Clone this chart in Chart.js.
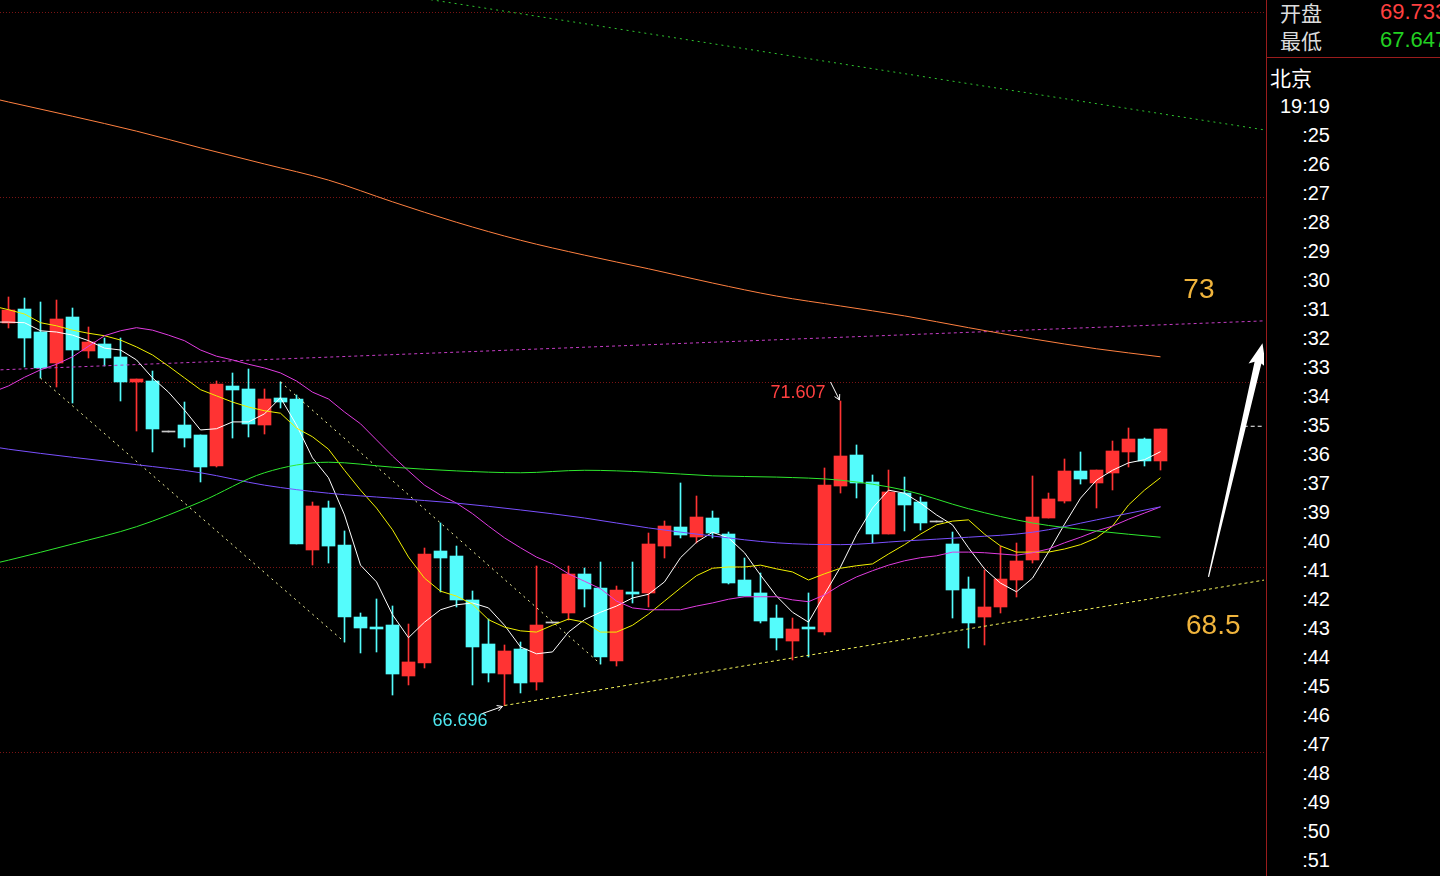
<!DOCTYPE html>
<html lang="zh">
<head>
<meta charset="utf-8">
<title>K线</title>
<script src="https://cdn.jsdelivr.net/npm/chart.js@4.4.1/dist/chart.umd.min.js"></script>
<style>
  html, body { margin: 0; padding: 0; background: #000; overflow: hidden; }
  #wrap { position: relative; width: 1440px; height: 876px; background: #000; }
  #plot { position: absolute; left: 0; top: 0; }
  #side {
    position: absolute; left: 1266px; top: 0; width: 173px; height: 876px;
    border-left: 1px solid #9a1c1c; color: #fff;
    font-family: "Liberation Sans", Arial, sans-serif;
  }
  #side div { position: absolute; white-space: nowrap; }
  .cn { font-family: "Noto Sans CJK SC", sans-serif; font-size: 21px; line-height: 24px; color: #dcdcdc; }
  .qv { font-size: 22px; line-height: 24px; left: 113px; }
  .tm { font-size: 20px; line-height: 22px; left: 0; width: 63px; text-align: right; }
  #sep { left: 0; top: 57px; width: 173px; height: 1px; background: #9a1c1c; }
</style>
</head>
<body>
<div id="wrap">
  <canvas id="plot" width="1264" height="876"></canvas>
  <div id="side"><div id="sep"></div></div>
</div>
<script>
// K线数据 (每根一分钟)
const opens  = [72.865,73.091,72.720,72.220,72.962,72.414,72.527,72.317,71.914,71.930,
                71.107,71.220,71.059,70.559,71.849,71.801,71.220,71.656,71.640,69.204,
                69.882,69.285,68.123,67.962,67.994,67.172,67.382,69.188,69.107,68.398,
                67.688,67.204,67.607,67.075,68.027,68.188,68.817,68.591,67.414,68.527,
                68.511,69.268,69.575,69.414,69.720,69.462,68.720,68.511,68.107,67.736,
                67.962,67.882,70.236,70.736,70.301,69.462,70.123,69.978,69.656,69.301,
                68.575,68.123,68.285,68.720,69.043,69.720,69.994,70.478,70.285,70.446,
                70.785,70.994,70.640];
const highs  = [73.285,73.268,73.204,73.236,73.107,72.801,72.623,72.623,71.962,72.091,
                71.107,71.591,71.059,71.930,72.059,72.123,71.801,71.914,71.704,69.978,
                69.994,69.511,68.188,68.414,68.301,68.010,69.236,69.640,69.268,68.543,
                68.091,67.672,67.720,68.946,68.027,68.946,68.914,69.010,68.623,69.010,
                69.478,69.672,70.285,70.075,69.833,69.494,69.075,68.833,68.317,68.107,
                68.511,70.527,71.607,70.898,70.414,70.494,70.381,70.059,69.656,69.494,
                68.769,68.882,69.268,69.317,70.398,70.123,70.672,70.785,70.494,70.962,
                71.172,71.010,71.156];
const lows   = [72.785,72.156,71.978,71.833,71.575,72.301,72.172,71.607,71.123,70.785,
                71.107,70.865,70.301,70.543,71.010,71.027,71.075,71.494,69.301,68.962,
                68.994,67.720,67.543,67.559,66.865,67.027,67.301,68.527,68.285,67.027,
                67.075,66.696,66.898,66.946,68.027,68.075,68.285,67.365,67.333,68.349,
                68.285,69.075,69.398,69.317,69.398,68.656,68.462,68.027,67.591,67.430,
                67.478,67.833,70.123,70.043,69.317,69.462,69.511,69.527,69.656,68.107,
                67.623,67.672,68.188,68.446,68.994,69.720,69.962,70.268,69.882,70.172,
                70.543,70.559,70.494];
const closes = [73.075,72.623,72.140,72.930,72.430,72.559,72.301,71.914,71.962,71.156,
                71.107,71.010,70.543,71.882,71.785,71.236,71.640,71.591,69.301,69.914,
                69.268,68.123,67.946,67.930,67.204,67.398,69.140,69.075,68.398,67.640,
                67.220,67.575,67.059,67.994,68.027,68.817,68.575,67.478,68.559,68.494,
                69.301,69.591,69.446,69.736,69.478,68.672,68.462,68.059,67.785,67.930,
                67.930,70.252,70.720,70.285,69.462,70.140,69.930,69.640,69.656,68.559,
                68.027,68.285,68.736,69.027,69.736,70.027,70.478,70.349,70.494,70.801,
                70.994,70.640,71.156];

// 均线: 第一个值是左边框外的那根
const maWhite  = [72.88,
  72.88,72.87,72.74,72.72,72.67,72.58,72.46,72.43,72.27,71.98,
  71.75,71.46,71.14,71.16,71.27,71.27,71.40,71.66,71.22,70.69,
  70.37,69.77,68.96,68.69,68.16,67.79,68.04,68.24,68.32,68.35,
  68.27,67.99,67.64,67.53,67.56,67.88,68.08,68.20,68.30,68.43,
  68.49,68.69,69.08,69.33,69.49,69.40,69.16,68.80,68.46,68.20,
  68.04,68.49,68.93,69.45,69.88,70.17,70.12,69.96,69.77,69.61,
  69.24,68.90,68.67,68.53,68.75,69.17,69.62,70.04,70.33,70.49,
  70.61,70.66,70.79];
const maYellow = [73.14,
  73.08,73.01,72.87,72.82,72.75,72.70,72.66,72.59,72.48,72.35,
  72.17,71.98,71.79,71.69,71.59,71.51,71.45,71.41,71.17,71.03,
  70.83,70.49,70.17,69.88,69.53,69.09,68.75,68.54,68.46,68.33,
  68.08,67.96,67.90,67.88,67.99,68.09,68.04,67.88,67.88,67.99,
  68.17,68.38,68.59,68.79,68.91,68.93,68.93,68.96,68.90,68.85,
  68.72,68.82,68.91,68.95,68.98,69.14,69.29,69.46,69.61,69.67,
  69.69,69.46,69.27,69.17,69.17,69.17,69.22,69.29,69.40,69.59,
  69.93,70.17,70.37];
const maMagenta = [71.75,
  71.85,71.99,72.11,72.20,72.32,72.49,72.66,72.74,72.79,72.75,
  72.67,72.58,72.43,72.33,72.27,72.20,72.14,72.06,71.93,71.75,
  71.64,71.43,71.24,70.98,70.72,70.48,70.25,70.09,69.96,69.79,
  69.59,69.40,69.24,69.09,68.98,68.82,68.70,68.58,68.38,68.27,
  68.24,68.24,68.24,68.30,68.35,68.41,68.45,68.45,68.45,68.40,
  68.37,68.48,68.64,68.77,68.87,68.96,69.03,69.08,69.11,69.17,
  69.17,69.16,69.14,69.12,69.16,69.22,69.32,69.41,69.51,69.59,
  69.70,69.80,69.90];

// 慢均线, 每4根读一次
const slowIdx  = [-1,0,4,8,12,16,20,24,28,32,36,40,44,48,52,56,60,64,68,72];
const maGreen  = [68.98,69.04,69.30,69.58,69.98,70.45,70.62,70.54,70.48,70.45,70.49,70.46,70.40,70.38,70.33,70.17,69.87,69.64,69.51,69.41];
const maPurple = [70.87,70.83,70.70,70.58,70.45,70.25,70.12,70.04,69.96,69.85,69.72,69.56,69.43,69.32,69.29,69.35,69.41,69.49,69.69,69.90];
const maOrange = [76.49,76.43,76.20,75.96,75.69,75.43,75.17,74.82,74.49,74.20,73.96,73.74,73.51,73.30,73.14,72.98,72.79,72.61,72.45,72.32];

// 画线 [序号, 价格]
const lineGreenDot   = [[26.4, 78.08], [78.5, 75.98]];
const lineMagentaDot = [[-0.5, 72.11], [78.5, 72.90]];
const lineSupport    = [[31, 66.696], [78.5, 68.72]];
const lineDown1      = [[2, 71.978], [21, 67.72]];
const lineDown2      = [[17, 71.914], [37, 67.365]];
const lastPrice      = 71.20;

const gridValues = [77.88, 74.90, 71.91, 68.93, 65.95];
const maxIdx = 52, minIdx = 31;
const maxText = '71.607', minText = '66.696';
const arrowFrom = [75.0, 68.77], arrowTo = [78.375, 72.54];
const targetLabels = [{ text: '73', at: [74.4, 73.40] }, { text: '68.5', at: [75.3, 67.98] }];

// 右侧面板
const quoteNames  = ['开盘', '最低'];
const quoteValues = ['69.733', '67.647'];
const quoteColors = ['#ff4040', '#22d022'];
const timeLabels = ['19:19', ':25', ':26', ':27', ':28', ':29', ':30', ':31', ':32', ':33', ':34',
                    ':35', ':36', ':37', ':39', ':40', ':41', ':42', ':43', ':44', ':45', ':46',
                    ':47', ':48', ':49', ':50', ':51'];

const RED = '#ff3333', CYAN = '#54fcfc', GRAY = '#c8c8c8';

function candleColor(i) {
    if (closes[i] > opens[i]) return RED;
    if (closes[i] < opens[i]) return CYAN;
    return GRAY;
}

const side = document.getElementById('side');
quoteNames.forEach((n, k) => {
    side.innerHTML += `<div class="cn" style="left:13px;top:${k * 28}px">${n}</div>`;
    side.innerHTML += `<div class="qv" style="top:${k * 28}px;color:${quoteColors[k]}">${quoteValues[k]}</div>`;
});
side.innerHTML += `<div class="cn" style="left:3px;top:65px;color:#fff">北京</div>`;
timeLabels.forEach((t, k) => {
    side.innerHTML += `<div class="tm" style="top:${95 + k * 29}px">${t}</div>`;
});

const gridPlugin = {
    id: 'grid',
    beforeDatasetsDraw(chart) {
        const { ctx, chartArea, scales: { y } } = chart;
        ctx.save();
        ctx.strokeStyle = '#7a1414';
        ctx.lineWidth = 1;
        ctx.setLineDash([1, 2]);
        gridValues.forEach(v => {
            const py = Math.round(y.getPixelForValue(v)) + 0.5;
            ctx.beginPath();
            ctx.moveTo(chartArea.left, py);
            ctx.lineTo(chartArea.right, py);
            ctx.stroke();
        });
        ctx.restore();
    }
};

function smallArrow(ctx, x1, y1, x2, y2) {
    const a = Math.atan2(y2 - y1, x2 - x1);
    ctx.beginPath();
    ctx.moveTo(x1, y1);
    ctx.lineTo(x2, y2);
    ctx.moveTo(x2 - 6 * Math.cos(a - 0.5), y2 - 6 * Math.sin(a - 0.5));
    ctx.lineTo(x2, y2);
    ctx.lineTo(x2 - 6 * Math.cos(a + 0.5), y2 - 6 * Math.sin(a + 0.5));
    ctx.stroke();
}

const notePlugin = {
    id: 'notes',
    afterDatasetsDraw(chart) {
        const { ctx, scales: { x, y } } = chart;
        ctx.save();
        ctx.font = '18px "Liberation Sans", Arial, sans-serif';
        ctx.textBaseline = 'middle';
        ctx.textAlign = 'right';
        ctx.strokeStyle = '#ffffff';
        ctx.lineWidth = 1;

        // 最高价
        let px = x.getPixelForValue(maxIdx), py = y.getPixelForValue(highs[maxIdx]);
        ctx.fillStyle = '#ff4040';
        ctx.fillText(maxText, px - 15, py - 8);
        smallArrow(ctx, px - 10, py - 19, px - 1, py - 1);

        // 最低价
        px = x.getPixelForValue(minIdx); py = y.getPixelForValue(lows[minIdx]);
        ctx.fillStyle = '#4ee8f0';
        ctx.fillText(minText, px - 17, py + 16);
        smallArrow(ctx, px - 22, py + 8, px - 2, py + 1);

        // 目标位
        ctx.font = '28px "Liberation Sans", Arial, sans-serif';
        ctx.textAlign = 'center';
        ctx.fillStyle = '#f0b43c';
        targetLabels.forEach(l => {
            ctx.fillText(l.text, x.getPixelForValue(l.at[0]), y.getPixelForValue(l.at[1]));
        });

        // 大箭头
        const ax = x.getPixelForValue(arrowFrom[0]), ay = y.getPixelForValue(arrowFrom[1]);
        const bx = x.getPixelForValue(arrowTo[0]), by = y.getPixelForValue(arrowTo[1]);
        const len = Math.hypot(bx - ax, by - ay);
        const ux = (bx - ax) / len, uy = (by - ay) / len, nx = -uy, ny = ux;
        const hx = bx - ux * 20, hy = by - uy * 20;
        ctx.fillStyle = '#ffffff';
        ctx.beginPath();
        ctx.moveTo(ax + nx * 0.6, ay + ny * 0.6);
        ctx.lineTo(hx + nx * 3.5, hy + ny * 3.5);
        ctx.lineTo(hx + nx * 9 - ux * 3, hy + ny * 9 - uy * 3);
        ctx.lineTo(bx, by);
        ctx.lineTo(hx - nx * 9 - ux * 3, hy - ny * 9 - uy * 3);
        ctx.lineTo(hx - nx * 3.5, hy - ny * 3.5);
        ctx.lineTo(ax - nx * 0.6, ay - ny * 0.6);
        ctx.closePath();
        ctx.fill();
        ctx.restore();
    }
};

const idx = opens.map((_, i) => i);
const pts = (arr, start) => arr.map((v, k) => ({ x: k + start, y: v }));
const sparse = arr => arr.map((v, k) => ({ x: slowIdx[k], y: v }));
const pair = p => p.map(q => ({ x: q[0], y: q[1] }));

function maLine(data, color, smooth) {
    return {
        type: 'line', data: data, borderColor: color, borderWidth: 1,
        pointRadius: 0, order: 1, tension: 0,
        cubicInterpolationMode: smooth ? 'monotone' : 'default'
    };
}
function dotLine(p, color, dash) {
    return {
        type: 'line', data: pair(p), borderColor: color, borderWidth: 1,
        borderDash: dash, pointRadius: 0, order: 2
    };
}

new Chart(document.getElementById('plot'), {
    type: 'bar',
    data: {
        datasets: [
            {
                data: idx.map(i => ({ x: i, y: [lows[i], highs[i]] })),
                backgroundColor: idx.map(candleColor),
                barThickness: 1, minBarLength: 1, grouped: false, order: 4
            },
            {
                data: idx.map(i => ({ x: i, y: [opens[i], closes[i]] })),
                backgroundColor: idx.map(candleColor),
                barThickness: 13, minBarLength: 1, grouped: false, order: 3
            },
            dotLine(lineGreenDot, '#2fc42f', [2, 4]),
            dotLine(lineMagentaDot, '#c43cc4', [3, 3]),
            dotLine(lineSupport, '#f4f45a', [3, 3]),
            dotLine(lineDown1, '#f4f4a0', [2, 4]),
            dotLine(lineDown2, '#f4f4a0', [2, 4]),
            dotLine([[77.2, lastPrice], [78.5, lastPrice]], '#ffffff', [4, 3]),
            maLine(sparse(maOrange), '#ff8040', true),
            maLine(sparse(maGreen), '#2ee82e', true),
            maLine(sparse(maPurple), '#7a50ff', true),
            maLine(pts(maMagenta, -1), '#e03ce0', false),
            maLine(pts(maYellow, -1), '#f0f000', false),
            maLine(pts(maWhite, -1), '#ffffff', false)
        ]
    },
    options: {
        responsive: false,
        animation: false,
        events: [],
        layout: { padding: 0 },
        scales: {
            x: { type: 'linear', min: -0.53125, max: 78.46875, offset: false, display: false },
            y: { type: 'linear', min: 63.946, max: 78.075, display: false }
        },
        plugins: { legend: { display: false }, tooltip: { enabled: false } }
    },
    plugins: [gridPlugin, notePlugin]
});
</script>
</body>
</html>
